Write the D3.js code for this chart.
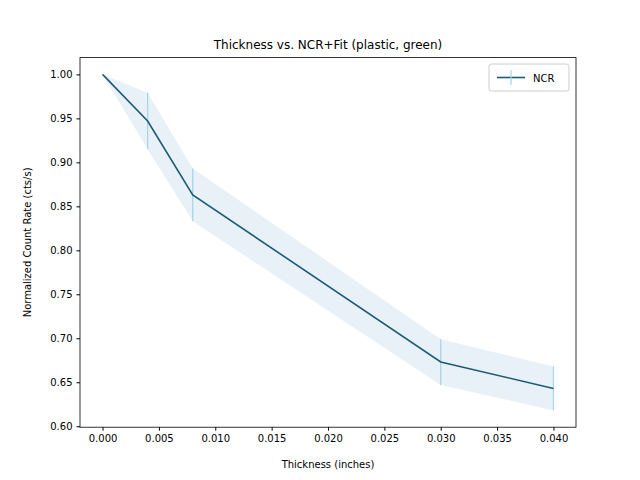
<!DOCTYPE html>
<html><head><meta charset="utf-8">
<script src="https://cdn.jsdelivr.net/npm/d3@7"></script>
<style>body{margin:0;background:#fff}text{font-family:"DejaVu Sans",sans-serif}</style>
</head><body><svg id="c" width="640" height="480"></svg>
<script>
var thickness = [0, 0.004, 0.008, 0.030, 0.040],
	ncr = [1.0, 0.947, 0.863, 0.673, 0.643],
	err = [0, 0.032, 0.030, 0.026, 0.025],
	xTicks = [0, 0.005, 0.010, 0.015, 0.020, 0.025, 0.030, 0.035, 0.040],
	yTicks = [0.60, 0.65, 0.70, 0.75, 0.80, 0.85, 0.90, 0.95, 1.00];

(function () {
var svg = d3.select("#c"),
	pl = 80, pr = 576, pt = 57.6, pb = 427.2,
	x = d3.scaleLinear().domain([-0.002, 0.042]).range([pl, pr]),
	y = d3.scaleLinear().domain([0.5989, 1.0191]).range([pb, pt]),
	data = thickness.map(function (t, i) { return {t: t, v: ncr[i], e: err[i]}; });

svg.append("path").datum(data)
	.attr("fill", "#1f77b4").attr("fill-opacity", 0.1)
	.attr("d", d3.area().x(function (d) { return x(d.t); })
		.y0(function (d) { return y(d.v - d.e); }).y1(function (d) { return y(d.v + d.e); }));

svg.selectAll(".eb").data(data).enter().append("line")
	.attr("x1", function (d) { return x(d.t); }).attr("x2", function (d) { return x(d.t); })
	.attr("y1", function (d) { return y(d.v - d.e); }).attr("y2", function (d) { return y(d.v + d.e); })
	.attr("stroke", "#a6d3e6").attr("stroke-width", 1.2);

svg.append("path").datum(data)
	.attr("fill", "none").attr("stroke", "#1d5b74").attr("stroke-width", 1.6)
	.attr("d", d3.line().x(function (d) { return x(d.t); }).y(function (d) { return y(d.v); }));

svg.append("g").attr("transform", "translate(0," + pb + ")")
	.call(d3.axisBottom(x).tickValues(xTicks).tickFormat(d3.format(".3f")).tickSizeOuter(0).tickSize(3.5).tickPadding(4))
	.call(function (g) { g.select(".domain").remove(); })
	.selectAll("text").attr("font-size", 10).attr("fill", "#000");
svg.append("g").attr("transform", "translate(" + pl + ",0)")
	.call(d3.axisLeft(y).tickValues(yTicks).tickFormat(d3.format(".2f")).tickSizeOuter(0).tickSize(3.5).tickPadding(4))
	.call(function (g) { g.select(".domain").remove(); })
	.selectAll("text").attr("font-size", 10).attr("fill", "#000");

svg.append("rect").attr("x", pl).attr("y", pt).attr("width", pr - pl).attr("height", pb - pt)
	.attr("fill", "none").attr("stroke", "#000").attr("stroke-width", 0.8);

svg.append("text").attr("x", (pl + pr) / 2).attr("y", 49).attr("text-anchor", "middle")
	.attr("font-size", 12).text("Thickness vs. NCR+Fit (plastic, green)");
svg.append("text").attr("x", (pl + pr) / 2).attr("y", 468).attr("text-anchor", "middle")
	.attr("font-size", 10).text("Thickness (inches)");
svg.append("text").attr("transform", "translate(31," + (pt + pb) / 2 + ") rotate(-90)")
	.attr("text-anchor", "middle").attr("font-size", 10).text("Normalized Count Rate (cts/s)");

var lg = svg.append("g").attr("transform", "translate(489,64)");
lg.append("rect").attr("width", 80).attr("height", 27).attr("rx", 2.5)
	.attr("fill", "#fff").attr("fill-opacity", 0.8).attr("stroke", "#ccc");
lg.append("line").attr("x1", 8).attr("x2", 36).attr("y1", 13.5).attr("y2", 13.5)
	.attr("stroke", "#1d5b74").attr("stroke-width", 1.6);
lg.append("line").attr("x1", 22).attr("x2", 22).attr("y1", 6).attr("y2", 21)
	.attr("stroke", "#a6d3e6").attr("stroke-width", 1.2);
lg.append("text").attr("x", 44).attr("y", 17.5).attr("font-size", 10).text("NCR");
})();
</script></body></html>
